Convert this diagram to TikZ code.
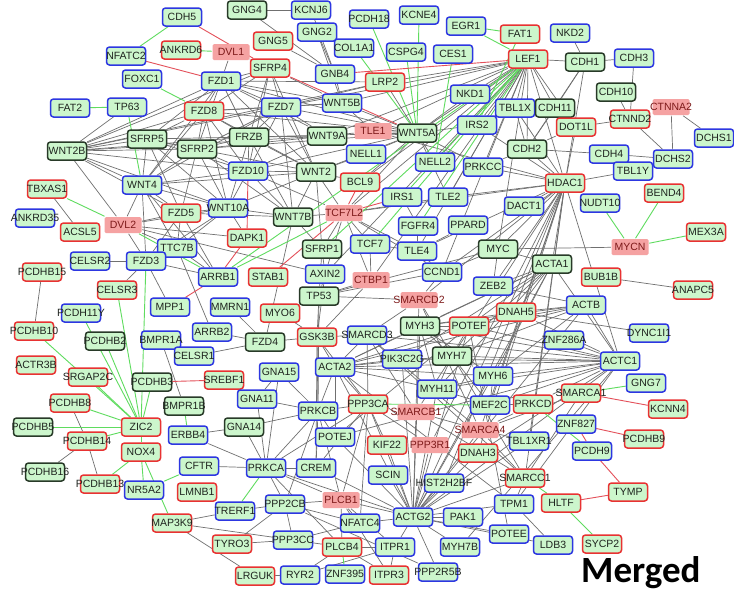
\documentclass[tikz,border=0pt]{standalone}
\usepackage{fontspec}
\setmainfont{Liberation Sans}
\newfontfamily\mergedfont{Carlito}
\pgfdeclarelayer{edges}
\pgfsetlayers{edges,main}
\definecolor{ngreen}{RGB}{204,246,204}
\definecolor{nblue}{RGB}{45,55,225}
\definecolor{nred}{RGB}{232,50,50}
\definecolor{ndark}{RGB}{40,58,40}
\definecolor{npink}{RGB}{245,162,162}
\definecolor{ptext}{RGB}{125,25,25}
\definecolor{ntext}{RGB}{30,35,30}
\definecolor{egray}{RGB}{112,112,112}
\definecolor{egreen}{RGB}{95,220,95}
\definecolor{ered}{RGB}{228,80,90}
\newcommand\gnode[5]{\node[#1] (#2) at (#3,#4) {#5};}
\begin{document}
\begin{tikzpicture}[x=1pt,y=-1pt,
 nbox/.style={rounded corners=3pt, minimum width=39pt, minimum height=18pt, inner sep=0pt,
   fill=ngreen, line width=1.5pt, text=ntext, font=\fontsize{10.5}{12}\selectfont,
   execute at begin node={\hbox to 0pt\bgroup\hss}, execute at end node={\hss\egroup}},
 bn/.style={nbox,draw=nblue}, rn/.style={nbox,draw=nred}, dn/.style={nbox,draw=ndark},
 pn/.style={nbox,fill=npink,draw=none,minimum width=37pt,minimum height=16pt,rounded corners=1.5pt,text=ptext},
 ge/.style={draw=egray,line width=0.7pt},
 gr/.style={draw=egreen,line width=0.9pt},
 re/.style={draw=ered,line width=0.9pt}]
\useasboundingbox (0,0) rectangle (734,590);
% ---------- nodes ----------
\gnode{bn}{cdh5}{182}{17}{CDH5}
\gnode{dn}{gng4}{247}{10}{GNG4}
\gnode{bn}{kcnj6}{311}{10}{KCNJ6}
\gnode{bn}{pcdh18}{369}{19}{PCDH18}
\gnode{bn}{kcne4}{419}{15}{KCNE4}
\gnode{bn}{egr1}{466}{26}{EGR1}
\gnode{rn}{fat1}{520}{34}{FAT1}
\gnode{bn}{nkd2}{570}{33}{NKD2}
\gnode{bn}{nfatc2}{126}{56}{NFATC2}
\gnode{rn}{ankrd6}{181}{50}{ANKRD6}
\gnode{pn}{dvl1}{231}{52}{DVL1}
\gnode{rn}{gng5}{273}{41}{GNG5}
\gnode{bn}{gng2}{317}{32}{GNG2}
\gnode{bn}{col1a1}{354}{48}{COL1A1}
\gnode{bn}{cspg4}{406}{52}{CSPG4}
\gnode{bn}{ces1}{453}{54}{CES1}
\gnode{rn}{lef1}{528}{59}{LEF1}
\gnode{dn}{cdh1}{585}{62}{CDH1}
\gnode{bn}{cdh3}{634}{58}{CDH3}
\gnode{bn}{foxc1}{142}{79}{FOXC1}
\gnode{bn}{fzd1}{221}{81}{FZD1}
\gnode{rn}{sfrp4}{270}{68}{SFRP4}
\gnode{bn}{gnb4}{335}{74}{GNB4}
\gnode{rn}{lrp2}{385}{82}{LRP2}
\gnode{dn}{cdh10}{616}{92}{CDH10}
\gnode{bn}{nkd1}{470}{94}{NKD1}
\gnode{bn}{fat2}{70}{108}{FAT2}
\gnode{bn}{tp63}{127}{107}{TP63}
\gnode{rn}{fzd8}{204}{111}{FZD8}
\gnode{bn}{fzd7}{281}{107}{FZD7}
\gnode{bn}{wnt5b}{342}{103}{WNT5B}
\gnode{bn}{tbl1x}{515}{108}{TBL1X}
\gnode{dn}{cdh11}{555}{108}{CDH11}
\gnode{pn}{ctnna2}{671}{107}{CTNNA2}
\gnode{rn}{ctnnd2}{630}{119}{CTNND2}
\gnode{rn}{dot1l}{576}{127}{DOT1L}
\gnode{bn}{irs2}{477}{125}{IRS2}
\gnode{dn}{sfrp5}{147}{139}{SFRP5}
\gnode{dn}{frzb}{249}{137}{FRZB}
\gnode{dn}{wnt9a}{327}{136}{WNT9A}
\gnode{pn}{tle1}{373}{131}{TLE1}
\gnode{dn}{wnt5a}{417}{133}{WNT5A}
\gnode{bn}{dchs1}{714}{138}{DCHS1}
\gnode{dn}{wnt2b}{67}{151}{WNT2B}
\gnode{dn}{sfrp2}{197}{149}{SFRP2}
\gnode{bn}{nell1}{366}{154}{NELL1}
\gnode{dn}{cdh2}{527}{149}{CDH2}
\gnode{bn}{cdh4}{609}{154}{CDH4}
\gnode{bn}{dchs2}{673}{159}{DCHS2}
\gnode{bn}{nell2}{435}{162}{NELL2}
\gnode{bn}{prkcc}{483}{167}{PRKCC}
\gnode{bn}{fzd10}{248}{171}{FZD10}
\gnode{dn}{wnt2}{316}{172}{WNT2}
\gnode{bn}{tbl1y}{633}{171}{TBL1Y}
\gnode{bn}{wnt4}{142}{185}{WNT4}
\gnode{rn}{bcl9}{360}{182}{BCL9}
\gnode{rn}{hdac1}{565}{183}{HDAC1}
\gnode{rn}{tbxas1}{47}{189}{TBXAS1}
\gnode{rn}{bend4}{664}{193}{BEND4}
\gnode{bn}{irs1}{402}{197}{IRS1}
\gnode{bn}{tle2}{448}{197}{TLE2}
\gnode{bn}{nudt10}{600}{203}{NUDT10}
\gnode{bn}{dact1}{524}{206}{DACT1}
\gnode{bn}{wnt10a}{228}{208}{WNT10A}
\gnode{rn}{fzd5}{181}{213}{FZD5}
\gnode{pn}{tcf7l2}{344}{213}{TCF7L2}
\gnode{dn}{wnt7b}{293}{217}{WNT7B}
\gnode{bn}{ankrd35}{35}{218}{ANKRD35}
\gnode{pn}{dvl2}{123}{225}{DVL2}
\gnode{bn}{fgfr4}{418}{226}{FGFR4}
\gnode{bn}{ppard}{468}{225}{PPARD}
\gnode{rn}{acsl5}{80}{232}{ACSL5}
\gnode{rn}{mex3a}{706}{232}{MEX3A}
\gnode{rn}{dapk1}{247}{238}{DAPK1}
\gnode{bn}{tcf7}{370}{244}{TCF7}
\gnode{pn}{mycn}{630}{247}{MYCN}
\gnode{bn}{ttc7b}{177}{248}{TTC7B}
\gnode{dn}{sfrp1}{322}{249}{SFRP1}
\gnode{dn}{myc}{498}{249}{MYC}
\gnode{bn}{tle4}{417}{251}{TLE4}
\gnode{bn}{celsr2}{90}{261}{CELSR2}
\gnode{bn}{fzd3}{146}{261}{FZD3}
\gnode{dn}{acta1}{552}{264}{ACTA1}
\gnode{rn}{pcdhb15}{42}{272}{PCDHB15}
\gnode{bn}{ccnd1}{442}{272}{CCND1}
\gnode{bn}{axin2}{325}{274}{AXIN2}
\gnode{bn}{arrb1}{218}{277}{ARRB1}
\gnode{rn}{stab1}{268}{277}{STAB1}
\gnode{pn}{ctbp1}{371}{280}{CTBP1}
\gnode{rn}{bub1b}{601}{277}{BUB1B}
\gnode{bn}{zeb2}{493}{286}{ZEB2}
\gnode{rn}{celsr3}{117}{290}{CELSR3}
\gnode{rn}{anapc5}{693}{290}{ANAPC5}
\gnode{dn}{tp53}{319}{296}{TP53}
\gnode{pn}{smarcd2}{419}{300}{SMARCD2}
\gnode{bn}{actb}{586}{305}{ACTB}
\gnode{bn}{mpp1}{170}{307}{MPP1}
\gnode{bn}{mmrn1}{230}{307}{MMRN1}
\gnode{rn}{myo6}{280}{313}{MYO6}
\gnode{rn}{dnah5}{516}{312}{DNAH5}
\gnode{bn}{pcdh11y}{81}{313}{PCDH11Y}
\gnode{dn}{myh3}{420}{326}{MYH3}
\gnode{rn}{potef}{469}{326}{POTEF}
\gnode{rn}{pcdhb10}{34}{331}{PCDHB10}
\gnode{bn}{arrb2}{212}{332}{ARRB2}
\gnode{bn}{dync1i1}{649}{333}{DYNC1I1}
\gnode{bn}{smarcd3}{367}{335}{SMARCD3}
\gnode{rn}{gsk3b}{317}{337}{GSK3B}
\gnode{bn}{znf286a}{564}{340}{ZNF286A}
\gnode{bn}{bmpr1a}{161}{340}{BMPR1A}
\gnode{dn}{pcdhb2}{105}{341}{PCDHB2}
\gnode{dn}{fzd4}{265}{342}{FZD4}
\gnode{bn}{celsr1}{194}{356}{CELSR1}
\gnode{dn}{myh7}{452}{356}{MYH7}
\gnode{bn}{pik3c2g}{402}{359}{PIK3C2G}
\gnode{bn}{actc1}{620}{361}{ACTC1}
\gnode{rn}{actr3b}{36}{365}{ACTR3B}
\gnode{bn}{acta2}{335}{367}{ACTA2}
\gnode{bn}{gna15}{279}{372}{GNA15}
\gnode{bn}{myh6}{493}{376}{MYH6}
\gnode{rn}{srgap2c}{88}{377}{SRGAP2C}
\gnode{rn}{srebf1}{224}{380}{SREBF1}
\gnode{dn}{pcdhb3}{152}{382}{PCDHB3}
\gnode{bn}{gng7}{646}{383}{GNG7}
\gnode{bn}{myh11}{437}{389}{MYH11}
\gnode{rn}{smarca1}{581}{393}{SMARCA1}
\gnode{bn}{gna11}{257}{399}{GNA11}
\gnode{rn}{pcdhb8}{70}{403}{PCDHB8}
\gnode{rn}{ppp3ca}{368}{404}{PPP3CA}
\gnode{rn}{prkcd}{533}{404}{PRKCD}
\gnode{bn}{mef2c}{490}{405}{MEF2C}
\gnode{dn}{bmpr1b}{184}{406}{BMPR1B}
\gnode{rn}{kcnn4}{668}{409}{KCNN4}
\gnode{bn}{prkcb}{318}{411}{PRKCB}
\gnode{pn}{smarcb1}{416}{412}{SMARCB1}
\gnode{bn}{znf827}{576}{424}{ZNF827}
\gnode{dn}{pcdhb5}{33}{427}{PCDHB5}
\gnode{rn}{zic2}{141}{427}{ZIC2}
\gnode{dn}{gna14}{244}{427}{GNA14}
\gnode{pn}{smarca4}{480}{430}{SMARCA4}
\gnode{bn}{erbb4}{188}{435}{ERBB4}
\gnode{bn}{potej}{335}{437}{POTEJ}
\gnode{rn}{pcdhb9}{644}{439}{PCDHB9}
\gnode{rn}{pcdhb14}{87}{441}{PCDHB14}
\gnode{bn}{tbl1xr1}{529}{441}{TBL1XR1}
\gnode{rn}{kif22}{387}{445}{KIF22}
\gnode{pn}{ppp3r1}{430}{445}{PPP3R1}
\gnode{bn}{pcdh9}{592}{451}{PCDH9}
\gnode{rn}{nox4}{141}{452}{NOX4}
\gnode{rn}{dnah3}{478}{453}{DNAH3}
\gnode{bn}{cftr}{199}{466}{CFTR}
\gnode{bn}{prkca}{266}{468}{PRKCA}
\gnode{bn}{crem}{316}{468}{CREM}
\gnode{dn}{pcdhb16}{45}{472}{PCDHB16}
\gnode{bn}{scin}{388}{475}{SCIN}
\gnode{rn}{smarcc1}{525}{478}{SMARCC1}
\gnode{bn}{hist2h2bf}{444}{483}{HIST2H2BF}
\gnode{rn}{pcdhb13}{100}{484}{PCDHB13}
\gnode{bn}{nr5a2}{144}{490}{NR5A2}
\gnode{rn}{tymp}{628}{492}{TYMP}
\gnode{rn}{lmnb1}{197}{492}{LMNB1}
\gnode{pn}{plcb1}{341}{500}{PLCB1}
\gnode{rn}{hltf}{561}{503}{HLTF}
\gnode{bn}{tpm1}{514}{504}{TPM1}
\gnode{bn}{ppp2cb}{285}{504}{PPP2CB}
\gnode{bn}{trerf1}{235}{511}{TRERF1}
\gnode{bn}{actg2}{413}{517}{ACTG2}
\gnode{bn}{pak1}{463}{517}{PAK1}
\gnode{bn}{nfatc4}{360}{523}{NFATC4}
\gnode{rn}{map3k9}{172}{523}{MAP3K9}
\gnode{bn}{potee}{509}{534}{POTEE}
\gnode{bn}{ppp3cc}{293}{540}{PPP3CC}
\gnode{rn}{tyro3}{232}{544}{TYRO3}
\gnode{rn}{sycp2}{602}{544}{SYCP2}
\gnode{bn}{ldb3}{553}{545}{LDB3}
\gnode{rn}{plcb4}{342}{547}{PLCB4}
\gnode{bn}{itpr1}{395}{547}{ITPR1}
\gnode{bn}{myh7b}{460}{547}{MYH7B}
\gnode{bn}{ppp2r5b}{438}{572}{PPP2R5B}
\gnode{bn}{znf395}{345}{574}{ZNF395}
\gnode{bn}{ryr2}{300}{575}{RYR2}
\gnode{rn}{itpr3}{389}{575}{ITPR3}
\gnode{rn}{lrguk}{255}{576}{LRGUK}
\node[anchor=base west, inner sep=0pt, font=\mergedfont\bfseries\fontsize{37}{40}\selectfont] (merged) at (581,582) {Merged};
% ---------- edges ----------
\begin{pgfonlayer}{edges}
\fill[white] (0,0) rectangle (734,590);
\foreach \a/\b in {
 wnt2b/sfrp5, wnt2b/sfrp2, wnt2b/fzd8, wnt2b/fzd1, wnt2b/frzb, wnt2b/fzd7, wnt2b/fzd10,
 wnt2b/fzd5, wnt2b/sfrp4, wnt2b/wnt4, wnt2b/dvl2, wnt2b/wnt10a, wnt2b/lrp2, wnt2b/wnt9a, wnt2b/tp63,
 fzd1/dvl1, fzd1/sfrp4, fzd1/wnt5b, fzd1/wnt5a, fzd1/sfrp5, fzd1/sfrp2, fzd1/frzb, fzd1/wnt2,
 fzd1/wnt4, fzd1/fzd7, fzd1/wnt9a, fzd1/lrp2, fzd1/fzd8,
 fzd8/sfrp5, fzd8/sfrp2, fzd8/frzb, fzd8/fzd7, fzd8/wnt5a, fzd8/wnt5b, fzd8/wnt4, fzd8/wnt2,
 fzd8/wnt10a, fzd8/fzd10, fzd8/sfrp4,
 fzd7/sfrp4, fzd7/wnt5b, fzd7/wnt5a, fzd7/wnt9a, fzd7/frzb, fzd7/wnt2, fzd7/wnt7b, fzd7/fzd10,
 fzd7/wnt4, fzd7/sfrp2, fzd7/lef1, fzd7/lrp2,
 sfrp4/wnt5b, sfrp4/frzb, sfrp4/fzd10, sfrp4/wnt2, sfrp4/dvl1,
 sfrp5/sfrp2, sfrp5/wnt4, sfrp5/fzd10, sfrp5/frzb, sfrp5/wnt10a, sfrp5/fzd5,
 sfrp2/frzb, sfrp2/wnt4, sfrp2/fzd10, sfrp2/wnt10a, sfrp2/wnt2, sfrp2/wnt5a, sfrp2/wnt9a,
 sfrp2/wnt7b, sfrp2/fzd5,
 frzb/wnt9a, frzb/wnt5a, frzb/fzd10, frzb/wnt2, frzb/wnt7b, frzb/wnt10a,
 wnt9a/fzd10, wnt9a/tle1, wnt9a/lef1, wnt5b/wnt5a, wnt5b/gnb4, wnt5b/lef1, wnt5b/gng2, wnt5b/tle1,
 fzd10/wnt2, fzd10/wnt7b, fzd10/wnt10a, fzd10/wnt4, fzd10/wnt5a, fzd10/tcf7l2,
 wnt4/fzd5, wnt4/wnt10a, wnt4/dvl2, wnt4/fzd3, wnt4/ttc7b, wnt4/arrb1, wnt4/wnt2,
 wnt10a/fzd5, wnt10a/wnt2, wnt10a/wnt7b, wnt10a/fzd3, wnt10a/ttc7b, wnt10a/dapk1, wnt10a/dvl2,
 wnt2/wnt7b, wnt2/bcl9, wnt2/tcf7l2, wnt2/sfrp1, wnt2/nell1, wnt2/wnt5a,
 wnt7b/tcf7l2, wnt7b/sfrp1, wnt7b/fzd4,
 fzd5/dvl2, fzd5/ttc7b, fzd5/fzd3, fzd5/arrb1, fzd5/wnt7b,
 dvl2/fzd3, dvl2/ttc7b, dvl2/dapk1, dvl2/axin2, tbxas1/acsl5,
 fzd3/celsr2, fzd3/celsr3, fzd3/ttc7b, fzd3/arrb1, fzd3/mpp1, ttc7b/arrb1, ttc7b/arrb2,
 gng4/kcnj6, gng4/gnb4, gng5/gnb4, gng2/gnb4, kcnj6/gnb4,
 lef1/wnt5a, lef1/tle1, lef1/nkd1, lef1/irs2, lef1/tbl1x, lef1/cdh1, lef1/cdh11, lef1/cdh2,
 lef1/dot1l, lef1/hdac1, lef1/tcf7l2, lef1/bcl9, lef1/lrp2, lef1/myc, lef1/ccnd1, lef1/axin2,
 lef1/ctbp1, lef1/tle2, lef1/tle4, lef1/nell2, lef1/prkcc,
 wnt5a/tle1, wnt5a/nkd1, wnt5a/irs2, wnt5a/lrp2, wnt5a/nell1, wnt5a/tcf7l2, wnt5a/nell2,
 wnt5a/tle2, wnt5a/prkcc, wnt5a/bcl9,
 cdh1/nkd2, cdh1/cdh3, cdh1/cdh2, cdh1/hdac1, cdh1/cdh11, cdh3/ctnnd2, cdh10/ctnnd2,
 ctnnd2/dot1l, ctnnd2/dchs2, ctnna2/dchs1, ctnna2/dchs2,
 cdh11/tbl1x, cdh11/cdh2, cdh11/dot1l, dot1l/cdh2, dot1l/hdac1,
 cdh2/cdh4, cdh2/prkcc, cdh2/hdac1, cdh2/tbl1x, cdh4/dchs2, tbl1y/hdac1, tbl1x/hdac1,
 hdac1/dact1, hdac1/myc, hdac1/acta1, hdac1/smarca4, hdac1/smarcb1, hdac1/smarcd2, hdac1/tbl1xr1,
 hdac1/actg2, hdac1/ccnd1, hdac1/zeb2, hdac1/tle2, hdac1/mef2c, hdac1/ppp3r1, hdac1/smarcc1,
 hdac1/dnah3, hdac1/hist2h2bf, hdac1/actc1, hdac1/prkcc, hdac1/irs2, hdac1/tcf7l2, hdac1/tle1,
 hdac1/tle4,
 mycn/myc, bub1b/anapc5, myc/ccnd1, myc/tp53, myc/zeb2, myc/acta1,
 actc1/myh3, actc1/myh7, actc1/myh6, actc1/myh11, actc1/acta1, actc1/acta2, actc1/actb,
 actc1/actg2, actc1/dnah5, actc1/potef, actc1/znf286a, actc1/pik3c2g, actc1/mef2c, actc1/tpm1,
 actc1/myh7b, actc1/potej, actc1/dnah3, actc1/prkcd, actc1/smarcd3,
 actb/dnah5, actb/myh3, actb/myh7, actb/potef, actb/acta2, actb/myh6, actb/actg2, actb/zeb2,
 dnah5/dync1i1, dnah5/myh3, dnah5/potef, dnah5/acta1,
 acta1/myh3, acta1/myh7, acta1/myh6, acta1/potef, acta1/acta2, acta1/myh11, acta1/actg2,
 acta1/pik3c2g, acta1/zeb2,
 acta2/myh3, acta2/myh7, acta2/myh11, acta2/myh6, acta2/pik3c2g, acta2/smarcd3, acta2/potef,
 acta2/actg2, acta2/ppp3ca, acta2/prkcb, acta2/gsk3b, acta2/potej, acta2/tpm1,
 myh3/myh7, myh3/potef, myh3/myh11, myh3/myh6, myh3/actg2,
 myh7/myh6, myh7/myh11, myh7/potef, myh7/mef2c, myh11/actg2, myh11/myh6, myh11/mef2c,
 myh6/mef2c, myh6/actg2, potef/potej, potef/potee, potef/actg2,
 actg2/scin, actg2/kif22, actg2/ppp3r1, actg2/hist2h2bf, actg2/pak1, actg2/itpr1, actg2/ppp2r5b,
 actg2/myh7b, actg2/nfatc4, actg2/plcb1, actg2/tpm1, actg2/potee, actg2/potej, actg2/crem,
 actg2/prkca, actg2/smarca4, actg2/tbl1xr1, actg2/smarcb1, actg2/dnah3, actg2/ppp3ca,
 actg2/ldb3, actg2/smarcc1, actg2/pik3c2g,
 ppp3ca/prkcb, ppp3ca/gsk3b, ppp3ca/smarcd3, ppp3ca/crem, ppp3ca/ppp3r1, ppp3ca/nfatc4,
 ppp3ca/prkca, ppp3ca/plcb1, ppp3ca/kif22,
 prkcb/gna15, prkcb/gna11, prkcb/gna14, prkcb/prkca, prkcb/crem, prkcb/potej, prkcb/plcb1,
 prkcb/gsk3b, prkcb/ppp2cb, prkcb/tp53,
 prkca/gna11, prkca/gna14, prkca/crem, prkca/cftr, prkca/ppp2cb, prkca/plcb1, prkca/plcb4,
 prkca/gna15, prkca/erbb4,
 plcb1/plcb4, plcb1/nfatc4, plcb1/itpr1, plcb1/itpr3, plcb1/ppp2cb,
 ppp2cb/ppp3cc, ppp2cb/trerf1, ppp2cb/nfatc4, ppp2cb/ppp2r5b, ppp3cc/nfatc4, ppp3cc/plcb4,
 ppp3cc/tyro3, plcb4/itpr1, plcb4/itpr3, plcb4/ryr2, itpr1/itpr3, itpr1/ryr2,
 map3k9/trerf1, map3k9/lrguk, map3k9/ppp3cc, tyro3/ppp2cb, lrguk/ryr2,
 erbb4/gna14, gna15/gna11,
 gsk3b/tp53, gsk3b/axin2, gsk3b/ctbp1, gsk3b/myo6, gsk3b/smarcd3, gsk3b/fzd4, gsk3b/crem,
 tp53/axin2, tp53/sfrp1, tp53/ctbp1, tp53/smarcd2, tp53/ccnd1, axin2/sfrp1, axin2/tcf7l2,
 tcf7l2/tcf7, tcf7l2/ctbp1, tcf7l2/sfrp1, tcf7l2/tle4, tcf7l2/tle2, tcf7l2/ccnd1,
 tcf7/tle4, tcf7/ctbp1, fgfr4/tle4, fgfr4/irs1, ppard/tle4, ccnd1/tle4, ccnd1/smarcd2,
 smarcd3/smarcd2, smarcd3/smarcb1, smarcd3/smarca4, smarcd3/smarcc1,
 smarcd2/smarcb1, smarcd2/smarca4, smarcd2/smarcc1, smarcb1/smarca4, smarcb1/smarcc1,
 smarca4/smarcc1, smarca4/smarca1, smarca4/tbl1xr1, smarca1/smarcc1, prkcd/mef2c, prkcd/smarca4,
 tpm1/ldb3, tpm1/smarcc1,
 arrb2/fzd4, celsr1/fzd4, bmpr1a/bmpr1b, mmrn1/fzd4,
 pcdhb15/pcdhb10, pcdhb8/pcdhb14, pcdhb14/pcdhb16, pcdhb14/pcdhb13}
 \draw[ge] (\a) -- (\b);
\foreach \a/\b in {
 cdh5/nfatc2, foxc1/fzd8, fat2/tp63, tp63/wnt4, kcne4/wnt5a, pcdh18/wnt5a, col1a1/wnt5a,
 cspg4/wnt5a, ces1/nell2, egr1/fat1, egr1/lef1, fat1/irs2, lef1/irs1, lef1/tcf7, lef1/sfrp1,
 lef1/arrb1, lef1/fgfr4, ankrd6/dvl1, tbxas1/dvl2, dvl2/arrb1, fzd3/zic2,
 zic2/pcdh11y, zic2/pcdhb10, zic2/pcdhb2, zic2/srgap2c, zic2/pcdhb8, zic2/pcdhb5, zic2/pcdhb14,
 zic2/pcdhb3, zic2/nox4, zic2/celsr3,
 nox4/pcdhb13, nox4/nr5a2, nox4/map3k9, cftr/nr5a2, bmpr1b/erbb4, arrb1/tcf7l2,
 mycn/nudt10, mycn/bend4, mycn/mex3a, smarca1/gng7, prkcd/pcdh9, hltf/sycp2, smarcc1/hltf,
 ppp3ca/mef2c, plcb4/znf395, prkca/trerf1}
 \draw[gr] (\a) -- (\b);
\foreach \a/\b in {
 cdh5/sfrp4, nfatc2/fzd1, sfrp4/wnt5a, gnb4/lef1, bcl9/tcf7l2, tcf7l2/irs1, tcf7l2/stab1,
 fzd10/dapk1, dapk1/arrb1, mpp1/arrb1, pcdhb3/srebf1, smarca1/kcnn4, znf827/pcdhb9,
 znf827/pcdh9, pcdh9/tymp, hltf/tymp}
 \draw[re] (\a) -- (\b);
\end{pgfonlayer}
\end{tikzpicture}
\end{document}
